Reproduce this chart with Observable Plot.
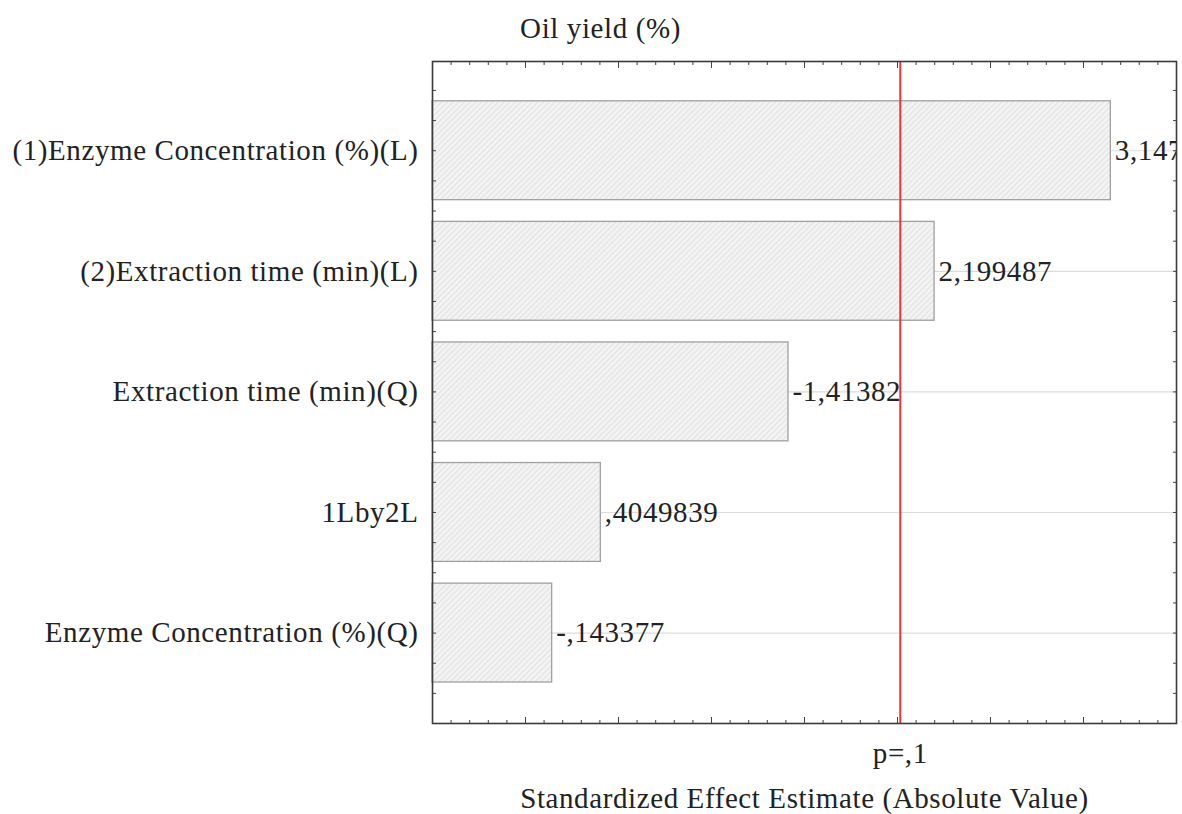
<!DOCTYPE html>
<html>
<head>
<meta charset="utf-8">
<script src="https://cdn.jsdelivr.net/npm/d3@7"></script>
<script src="https://cdn.jsdelivr.net/npm/@observablehq/plot@0.6"></script>
<style>
  html, body { margin: 0; padding: 0; background: #fff; }
</style>
</head>
<body>
<div id="chart"></div>
<script>
const title = "Oil yield (%)";
const xLabel = "Standardized Effect Estimate (Absolute Value)";
const categories = [
  "(1)Enzyme Concentration (%)(L)",
  "(2)Extraction time (min)(L)",
  "Extraction time (min)(Q)",
  "1Lby2L",
  "Enzyme Concentration (%)(Q)"
];
const effects = [3.147, 2.199487, -1.41382, 0.4049839, -0.143377];
const valueLabels = ["3,147", "2,199487", "-1,41382", ",4049839", "-,143377"];
const criticalValue = 2.015;
const criticalLabel = "p=,1";
const xDomain = [-0.5, 3.5];
const yDomain = [-0.74, 4.75];

const rows = categories.map((name, i) => ({
  i, name, abs: Math.abs(effects[i]), label: valueLabels[i]
}));

const xMinor = d3.range(-5, 36).map(k => k / 10);
const xMajor = d3.range(-1, 8).map(k => k / 2);
const yMinor = d3.range(-2, 20).map(k => k / 4);
const blank = () => "";
const half = 0.41;

const plot = Plot.plot({
  width: 1182,
  height: 814,
  marginLeft: 432,
  marginRight: 6,
  marginTop: 61,
  marginBottom: 91,
  style: {
    fontFamily: "'Liberation Serif', 'Times New Roman', serif",
    fontSize: "29px",
    letterSpacing: "0.6px",
    color: "#222",
    background: "#fff"
  },
  x: { domain: xDomain, label: null },
  y: { domain: yDomain, reverse: true, label: null },
  marks: [
    Plot.ruleY(rows, { y: "i", stroke: "#dcdcdc", strokeWidth: 1.2 }),
    Plot.rectX(rows, {
      x1: xDomain[0], x2: "abs",
      y1: d => d.i - half, y2: d => d.i + half,
      fill: "url(#hatch)", stroke: "#a0a0a0", strokeWidth: 1.3
    }),
    Plot.ruleX([criticalValue], { x: d => d, stroke: "#f03434", strokeWidth: 2 }),
    Plot.text(rows, {
      x: "abs", y: "i", text: "label", textAnchor: "start", dx: 4,
      clip: true, fill: "#222"
    }),
    Plot.axisY({ ticks: rows.map(d => d.i), tickFormat: i => categories[i], tickSize: 0, tickPadding: 14, fill: "#222", label: null }),
    Plot.axisY({ anchor: "left", ticks: yMinor, tickSize: 4, dx: 4, tickFormat: blank, stroke: "#444", label: null }),
    Plot.axisY({ anchor: "right", ticks: yMinor, tickSize: 4, dx: -4, tickFormat: blank, stroke: "#444", label: null }),
    Plot.axisX({ anchor: "bottom", ticks: xMinor, tickSize: 3, dy: -3, tickFormat: blank, stroke: "#444", label: null }),
    Plot.axisX({ anchor: "bottom", ticks: xMajor, tickSize: 6, dy: -6, tickFormat: blank, stroke: "#444", label: null }),
    Plot.axisX({ anchor: "top", ticks: xMinor, tickSize: 3, dy: 3, tickFormat: blank, stroke: "#444", label: null }),
    Plot.axisX({ anchor: "top", ticks: xMajor, tickSize: 6, dy: 6, tickFormat: blank, stroke: "#444", label: null }),
    Plot.frame({ stroke: "#3a3a3a", strokeWidth: 1.6 }),
    Plot.text([criticalLabel], { x: () => criticalValue, frameAnchor: "bottom", lineAnchor: "middle", dy: 30, text: d => d, fill: "#222" }),
    Plot.text([xLabel], { frameAnchor: "bottom", lineAnchor: "middle", dy: 75, text: d => d, fill: "#222" }),
    Plot.text([title], { frameAnchor: "top-left", lineAnchor: "middle", dx: 168, dy: -33, text: d => d, textAnchor: "middle", fill: "#222" })
  ]
});

const svg = d3.select(plot);
const pat = svg.insert("defs", ":first-child")
  .append("pattern")
  .attr("id", "hatch")
  .attr("width", 4).attr("height", 4)
  .attr("patternUnits", "userSpaceOnUse")
  .attr("patternTransform", "rotate(45)");
pat.append("rect").attr("width", 4).attr("height", 4).attr("fill", "#f3f3f3");
pat.append("line").attr("x1", 0).attr("y1", 0).attr("x2", 0).attr("y2", 4)
  .attr("stroke", "#d6d6d6").attr("stroke-width", 1.2);

document.getElementById("chart").appendChild(plot);
</script>
</body>
</html>
